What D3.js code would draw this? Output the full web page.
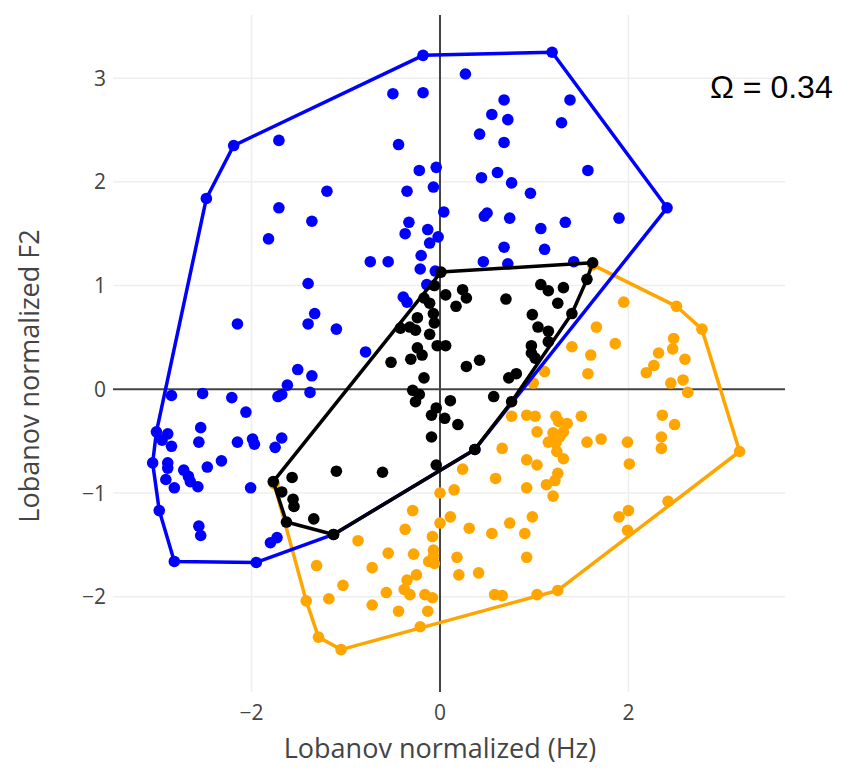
<!DOCTYPE html>
<html>
<head>
<meta charset="utf-8">
<script src="https://cdnjs.cloudflare.com/ajax/libs/d3/7.8.5/d3.min.js"></script>
<style>
  body { margin: 0; background: #fff; }
  text { font-family: "Open Sans", sans-serif; }
</style>
</head>
<body>
<svg id="chart" width="858" height="770"></svg>
<script>
// axis ranges and ticks
var xRange = [-3.471, 3.662];
var yRange = [-2.919, 3.609];
var xTicks = [-2, 0, 2];
var yTicks = [-2, -1, 0, 1, 2, 3];
var omega = 0.34;

// blue vowel cloud
var bluePoints = [
  [-0.18,3.22],[1.19,3.25],[0.27,3.04],[-0.50,2.85],[-0.18,2.86],[0.68,2.79],[1.38,2.79],[0.55,2.65],[0.72,2.60],[1.29,2.57],
  [0.42,2.46],[-1.71,2.40],[-2.19,2.35],[-0.44,2.36],[0.68,2.38],[-0.22,2.11],[-0.04,2.14],[1.57,2.11],[0.44,2.04],[0.61,2.09],
  [0.76,1.99],[-1.20,1.91],[-0.35,1.91],[-0.07,1.95],[0.96,1.89],[-2.48,1.84],[2.41,1.75],[-1.71,1.75],[-1.36,1.62],[0.04,1.71],
  [-0.33,1.61],[0.50,1.70],[0.47,1.67],[0.74,1.65],[1.90,1.65],[1.33,1.61],[1.07,1.55],[-0.37,1.50],[-0.13,1.54],[-0.02,1.47],
  [-0.11,1.41],[-1.82,1.45],[0.68,1.37],[1.11,1.35],[-0.74,1.23],[-0.55,1.23],[-0.20,1.29],[-0.21,1.16],[-0.05,1.14],[0.46,1.23],
  [0.72,1.21],[1.42,1.23],[-1.40,1.02],[-0.14,1.01],[-0.39,0.89],[-0.35,0.84],[-2.15,0.63],[-1.40,0.63],[-1.33,0.73],[-1.10,0.58],
  [-0.79,0.36],[-1.51,0.19],[-1.36,0.13],[-1.62,0.04],[-1.68,-0.05],[-1.72,-0.07],[-1.38,-0.03],[-2.85,-0.06],[-2.52,-0.04],[-2.21,-0.08],
  [-2.06,-0.22],[-2.54,-0.37],[-2.56,-0.51],[-3.01,-0.41],[-2.89,-0.43],[-2.95,-0.49],[-2.85,-0.55],[-2.15,-0.51],[-1.99,-0.48],[-1.97,-0.53],
  [-1.68,-0.47],[-1.75,-0.56],[-3.05,-0.71],[-2.89,-0.71],[-2.89,-0.76],[-2.72,-0.78],[-2.67,-0.84],[-2.65,-0.89],[-2.57,-0.94],[-2.47,-0.75],
  [-2.32,-0.69],[-2.91,-0.87],[-2.82,-0.95],[-2.01,-0.95],[-2.98,-1.17],[-2.56,-1.32],[-2.54,-1.41],[-1.80,-1.48],[-1.73,-1.43],[-2.82,-1.66],
  [-1.95,-1.67],[0.37,-0.58],[-1.13,-1.40]
];

// black vowel cloud
var blackPoints = [
  [0.01,1.13],[1.62,1.22],[1.56,1.06],[1.40,0.73],[0.76,-0.12],[0.37,-0.58],[-1.13,-1.40],[-1.63,-1.28],[-1.77,-0.89],
  [-0.06,1.00],[0.06,0.91],[0.24,0.96],[0.28,0.88],[0.17,0.80],[0.70,0.87],[-0.17,0.88],[-0.11,0.83],[-0.07,0.73],[-0.06,0.64],[-0.11,0.53],
  [-0.24,0.69],[-0.42,0.59],[-0.32,0.60],[-0.26,0.57],[-0.03,0.42],[0.06,0.42],[-0.24,0.40],[-0.19,0.33],[-0.31,0.29],[-0.52,0.26],
  [-0.17,0.11],[0.28,0.22],[0.42,0.28],[0.73,0.11],[0.81,0.15],[-0.29,-0.01],[-0.22,-0.05],[-0.26,-0.12],[0.11,-0.11],[0.57,-0.07],
  [-0.04,-0.18],[-0.09,-0.25],[0.05,-0.28],[0.19,-0.34],[-0.09,-0.46],[-0.04,-0.73],[-0.61,-0.80],[-1.10,-0.79],[-1.57,-0.85],[-1.68,-0.99],
  [-1.56,-1.06],[-1.55,-1.13],[-1.34,-1.25],[1.07,1.01],[1.15,0.95],[1.31,0.98],[1.25,0.83],[0.98,0.72],[1.04,0.60],[1.15,0.56],
  [1.15,0.46],[0.97,0.42],[0.97,0.35],[1.01,0.30]
];

// orange vowel cloud
var orangePoints = [
  [1.62,1.20],[2.51,0.80],[2.78,0.58],[3.18,-0.60],[2.42,-1.08],[1.25,-1.94],[-0.21,-2.29],[-1.05,-2.51],[-1.29,-2.39],[-1.42,-2.04],[-1.76,-0.91],
  [1.95,0.84],[1.66,0.60],[1.86,0.44],[1.40,0.41],[1.60,0.33],[1.57,0.15],[1.11,0.17],[0.99,0.06],
  [2.48,0.49],[2.47,0.39],[2.32,0.35],[2.27,0.23],[2.19,0.16],[2.60,0.29],[2.58,0.09],[2.45,0.06],[2.63,-0.03],
  [0.76,-0.26],[0.92,-0.25],[1.01,-0.26],[1.23,-0.26],[1.26,-0.31],[1.35,-0.33],[1.50,-0.26],
  [1.03,-0.41],[1.20,-0.42],[1.31,-0.41],[1.27,-0.46],[1.15,-0.51],[1.23,-0.52],[1.56,-0.51],[1.71,-0.48],[1.99,-0.51],
  [1.24,-0.60],[1.31,-0.67],[0.92,-0.68],[1.03,-0.73],[0.66,-0.57],[0.24,-0.77],[2.01,-0.72],
  [2.36,-0.25],[2.49,-0.34],[2.35,-0.46],[2.35,-0.57],
  [0.59,-0.86],[1.25,-0.81],[1.22,-0.88],[1.13,-0.92],[1.20,-1.03],[0.92,-0.95],
  [0.00,-1.00],[0.15,-0.97],[0.11,-1.23],[0.00,-1.29],[0.31,-1.34],[0.55,-1.39],[0.74,-1.29],[0.90,-1.39],[0.98,-1.23],
  [-0.08,-1.42],[-0.07,-1.55],[-0.07,-1.61],[-0.12,-1.66],[-0.06,-1.68],[0.18,-1.62],[0.20,-1.79],[0.41,-1.77],[0.92,-1.62],
  [0.58,-1.98],[0.66,-1.99],[1.03,-1.98],[-0.08,-2.01],[-0.13,-2.14],
  [1.90,-1.23],[2.00,-1.17],[1.99,-1.36],
  [-0.29,-1.17],[-0.37,-1.35],[-0.87,-1.46],[-0.55,-1.58],[-0.28,-1.59],[-1.31,-1.70],[-0.72,-1.72],[-1.03,-1.89],[-1.18,-2.02],[-0.57,-1.96],
  [-0.35,-1.84],[-0.25,-1.79],[-0.38,-1.93],[-0.32,-1.98],[-0.16,-1.98],[-0.72,-2.08],[-0.44,-2.14]
];

var svg = d3.select("#chart");
var margin = {top: 15, right: 73, bottom: 78, left: 113},
    width = 858 - margin.left - margin.right,
    height = 770 - margin.top - margin.bottom;

var x = d3.scaleLinear().domain(xRange).range([0, width]),
    y = d3.scaleLinear().domain(yRange).range([height, 0]);

var g = svg.append("g")
    .attr("transform", "translate(" + margin.left + "," + margin.top + ")");

// grid
g.selectAll(".gx").data(xTicks.filter(function(d) { return d !== 0; }))
  .enter().append("line")
    .attr("x1", function(d) { return x(d); }).attr("x2", function(d) { return x(d); })
    .attr("y1", 0).attr("y2", height)
    .style("stroke", "#eee").style("stroke-width", 1.5);
g.selectAll(".gy").data(yTicks.filter(function(d) { return d !== 0; }))
  .enter().append("line")
    .attr("y1", function(d) { return y(d); }).attr("y2", function(d) { return y(d); })
    .attr("x1", 0).attr("x2", width)
    .style("stroke", "#eee").style("stroke-width", 1.5);

// zero lines
g.append("line").attr("x1", x(0)).attr("x2", x(0)).attr("y1", 0).attr("y2", height)
  .style("stroke", "#444").style("stroke-width", 2);
g.append("line").attr("y1", y(0)).attr("y2", y(0)).attr("x1", 0).attr("x2", width)
  .style("stroke", "#444").style("stroke-width", 2);

// tick labels
var fmt = d3.format("d");
g.selectAll(".xl").data(xTicks).enter().append("text")
    .attr("x", function(d) { return x(d); })
    .attr("y", height + 28)
    .attr("text-anchor", "middle")
    .style("font-size", "21px").style("fill", "#444")
    .text(function(d) { return fmt(d); });
g.selectAll(".yl").data(yTicks).enter().append("text")
    .attr("x", -7)
    .attr("y", function(d) { return y(d); })
    .attr("dy", "0.36em")
    .attr("text-anchor", "end")
    .style("font-size", "21px").style("fill", "#444")
    .text(function(d) { return fmt(d); });

// axis titles
svg.append("text")
    .attr("x", 440).attr("y", 758)
    .attr("text-anchor", "middle")
    .style("font-size", "27px").style("fill", "#444")
    .text("Lobanov normalized (Hz)");
svg.append("text")
    .attr("transform", "translate(39,376) rotate(-90)")
    .attr("text-anchor", "middle")
    .style("font-size", "27px").style("fill", "#444")
    .text("Lobanov normalized F2");

// hull: closed for blue/black, orange left open on its upper-left side
function openHull(h) {
  var i = d3.maxIndex(h, function(p) { return p[1]; });
  var r = h.slice(i).concat(h.slice(0, i));
  if (r[1][0] < r[0][0]) r = [r[0]].concat(r.slice(1).reverse());
  return r;
}

var line = d3.line().x(function(d) { return x(d[0]); }).y(function(d) { return y(d[1]); });

var groups = [
  {pts: orangePoints, color: "#ffa500", closed: false},
  {pts: bluePoints, color: "#0000ff", closed: true},
  {pts: blackPoints, color: "#000000", closed: true}
];

groups.forEach(function(grp) {
  var hull = d3.polygonHull(grp.pts);
  var path = grp.closed ? hull.concat([hull[0]]) : openHull(hull);
  g.append("path")
    .attr("d", line(path))
    .style("fill", "none")
    .style("stroke", grp.color)
    .style("stroke-width", 3.5)
    .style("stroke-linejoin", "round");
  g.append("g").selectAll("circle")
    .data(grp.pts)
    .enter().append("circle")
      .attr("cx", function(d) { return x(d[0]); })
      .attr("cy", function(d) { return y(d[1]); })
      .attr("r", 5.8)
      .style("fill", grp.color);
});

// overlap annotation
svg.append("text")
    .attr("x", 710).attr("y", 98)
    .style("font-family", "'Liberation Sans', Arial, sans-serif")
    .style("font-size", "32px").style("fill", "#000")
    .text("\u03A9 = " + omega.toFixed(2));
</script>
</body>
</html>
